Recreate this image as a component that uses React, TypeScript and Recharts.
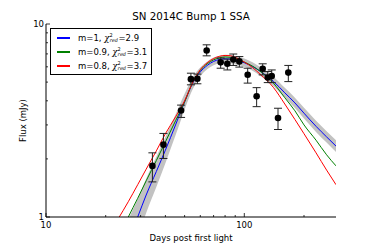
import {
  ComposedChart,
  Line,
  Area,
  Scatter,
  ErrorBar,
  XAxis,
  YAxis,
  Legend,
} from 'recharts';

document.body.style.margin = '0';

const FONT = '"DejaVu Sans", Verdana, sans-serif';

// model curves sampled on a common time grid (days)
const modelDays = [23, 26, 29, 32, 36, 40, 45, 50, 55, 60, 65, 70, 75, 80, 85, 90, 100, 110, 120, 140, 160, 180, 200, 230, 260, 290];
const blueFlux = [0.55, 0.75, 1.0, 1.3, 1.72, 2.22, 3.0, 3.95, 4.95, 5.65, 6.1, 6.4, 6.55, 6.6, 6.58, 6.5, 6.3, 6.02, 5.7, 5.05, 4.4, 3.9, 3.45, 2.95, 2.6, 2.33];
const greenFlux = [0.77, 1.0, 1.25, 1.54, 1.96, 2.45, 3.15, 3.95, 5.0, 5.75, 6.22, 6.52, 6.68, 6.75, 6.72, 6.62, 6.35, 6.05, 5.7, 4.95, 4.15, 3.55, 3.0, 2.5, 2.1, 1.84];
const redFlux = [0.97, 1.2, 1.47, 1.77, 2.2, 2.7, 3.3, 4.0, 5.0, 5.8, 6.3, 6.62, 6.8, 6.87, 6.85, 6.72, 6.35, 5.95, 5.5, 4.7, 3.85, 3.2, 2.7, 2.15, 1.75, 1.47];
const bandLow = [0.42, 0.58, 0.79, 1.05, 1.43, 1.9, 2.65, 3.6, 4.6, 5.35, 5.82, 6.12, 6.26, 6.3, 6.27, 6.2, 6.0, 5.72, 5.4, 4.77, 4.15, 3.67, 3.24, 2.76, 2.43, 2.17];
const bandHigh = [0.72, 0.97, 1.24, 1.58, 2.05, 2.6, 3.4, 4.35, 5.3, 5.95, 6.4, 6.7, 6.85, 6.92, 6.9, 6.82, 6.62, 6.33, 6.0, 5.35, 4.67, 4.15, 3.68, 3.15, 2.78, 2.5];

// observed points
const obsDays = [34.4, 39.1, 48.0, 53.8, 58.0, 64.6, 76.0, 82.1, 88.0, 94.4, 104, 115.4, 123.8, 131.3, 137.5, 147.9, 166.7];
const obsFlux = [1.84, 2.37, 3.56, 5.18, 5.2, 7.29, 6.33, 6.22, 6.55, 6.4, 5.46, 4.22, 5.86, 5.28, 5.38, 3.26, 5.6];
const obsErrLow = [0.32, 0.36, 0.28, 0.34, 0.3, 0.45, 0.43, 0.44, 0.45, 0.42, 0.52, 0.49, 0.41, 0.31, 0.41, 0.42, 0.57];
const obsErrHigh = [0.31, 0.34, 0.24, 0.38, 0.3, 0.51, 0.33, 0.36, 0.44, 0.38, 0.44, 0.46, 0.36, 0.39, 0.4, 0.4, 0.5];

const xTicks = [10, 20, 30, 40, 50, 60, 70, 80, 90, 100, 200];
const xMajor = [10, 100];
const yTicks = [1, 2, 3, 4, 5, 6, 7, 8, 9, 10];
const yMajor = [1, 10];

const legendM = ['1', '0.9', '0.8'];
const legendChi = ['2.9', '3.1', '3.7'];
const legendColors = ['#0000ff', '#008000', '#ff0000'];

const modelData = modelDays.map((x, i) => ({
  x,
  blue: blueFlux[i],
  green: greenFlux[i],
  red: redFlux[i],
  band: [bandLow[i], bandHigh[i]],
}));

const obsData = obsDays.map((x, i) => ({
  x,
  flux: obsFlux[i],
  err: [obsErrLow[i], obsErrHigh[i]],
}));

const TM = 8;

function XTick(props: any) {
  const { x, y, payload, side } = props;
  const major = xMajor.includes(payload.value);
  const len = major ? 4 : 2;
  if (side === 'top') {
    const ay = y + TM;
    return <line x1={x} x2={x} y1={ay} y2={ay + len} stroke="#000" strokeWidth={0.8} />;
  }
  const ay = y - TM;
  return (
    <g>
      <line x1={x} x2={x} y1={ay} y2={ay - len} stroke="#000" strokeWidth={0.8} />
      {major && (
        <text x={x} y={ay + 11} textAnchor="middle" fontSize={8.5} fontFamily={FONT} fill="#000">
          {payload.value}
        </text>
      )}
    </g>
  );
}

function YTick(props: any) {
  const { x, y, payload, side } = props;
  const major = yMajor.includes(payload.value);
  const len = major ? 4 : 2;
  if (side === 'right') {
    const ax = x - TM;
    return <line x1={ax} x2={ax - len} y1={y} y2={y} stroke="#000" strokeWidth={0.8} />;
  }
  const ax = x + TM;
  return (
    <g>
      <line x1={ax} x2={ax + len} y1={y} y2={y} stroke="#000" strokeWidth={0.8} />
      {major && (
        <text x={ax - 2} y={y} dy="0.35em" textAnchor="end" fontSize={8.5} fontFamily={FONT} fill="#000">
          {payload.value}
        </text>
      )}
    </g>
  );
}

function XLabel({ viewBox }: any) {
  const { x, y, width } = viewBox;
  return (
    <text x={x + width / 2} y={y + 23.5} textAnchor="middle" fontSize={8.5} fontFamily={FONT} fill="#000">
      Days post first light
    </text>
  );
}

function YLabel({ viewBox }: any) {
  const { x, y, height } = viewBox;
  return (
    <text
      transform={`translate(${x + 26},${y + height / 2}) rotate(-90)`}
      textAnchor="middle"
      fontSize={8.5}
      fontFamily={FONT}
      fill="#000"
    >
      Flux (mJy)
    </text>
  );
}

function LegendBox() {
  return (
    <div
      style={{
        border: '1px solid #000',
        background: '#fff',
        width: 102,
        height: 47,
        boxSizing: 'border-box',
        padding: '2px 0 0 6px',
        fontFamily: FONT,
        fontSize: 8.5,
        color: '#000',
      }}
    >
      {legendM.map((m, i) => (
        <div key={m} style={{ display: 'flex', alignItems: 'center', height: 14 }}>
          <div style={{ width: 13, height: 1.3, background: legendColors[i], marginRight: 8, flex: 'none' }} />
          <span style={{ whiteSpace: 'nowrap', display: 'flex', alignItems: 'center' }}>
            m={m},&nbsp;<i style={{ fontFamily: 'DejaVu Serif' }}>χ</i>
            <span style={{ display: 'inline-flex', flexDirection: 'column', fontSize: 5, lineHeight: '5px', marginRight: 0.5 }}>
              <span>2</span>
              <i style={{ fontFamily: 'DejaVu Serif' }}>red</i>
            </span>
            ={legendChi[i]}
          </span>
        </div>
      ))}
    </div>
  );
}

export default function App() {
  return (
    <div style={{ position: 'relative', width: 374, height: 249, background: '#fff' }}>
      <div
        style={{
          position: 'absolute',
          left: 46,
          width: 290,
          top: 10,
          textAlign: 'center',
          fontFamily: FONT,
          fontSize: 10.3,
          lineHeight: '13px',
          color: '#000',
        }}
      >
        SN 2014C Bump 1 SSA
      </div>
      <ComposedChart
        width={374}
        height={249}
        data={modelData}
        margin={{ top: 24, right: 38, bottom: 0, left: 0 }}
        style={{ position: 'absolute', left: 0, top: 0 }}
      >
        <XAxis
          dataKey="x"
          type="number"
          scale="log"
          domain={[10, 290]}
          allowDataOverflow
          ticks={xTicks}
          interval={0}
          tickLine={false}
          tickSize={0}
          tickMargin={TM}
          height={32}
          axisLine={{ stroke: '#000', strokeWidth: 1 }}
          tick={(p: any) => <XTick {...p} side="bottom" />}
          label={<XLabel />}
        />
        <XAxis
          xAxisId="top"
          orientation="top"
          dataKey="x"
          type="number"
          scale="log"
          domain={[10, 290]}
          allowDataOverflow
          ticks={xTicks}
          interval={0}
          tickLine={false}
          tickSize={0}
          tickMargin={TM}
          height={0}
          axisLine={{ stroke: '#000', strokeWidth: 1 }}
          tick={(p: any) => <XTick {...p} side="top" />}
        />
        <YAxis
          type="number"
          scale="log"
          domain={[1, 10]}
          allowDataOverflow
          ticks={yTicks}
          interval={0}
          tickLine={false}
          tickSize={0}
          tickMargin={TM}
          width={46}
          axisLine={{ stroke: '#000', strokeWidth: 1 }}
          tick={(p: any) => <YTick {...p} side="left" />}
          label={<YLabel />}
        />
        <YAxis
          yAxisId="right"
          orientation="right"
          type="number"
          scale="log"
          domain={[1, 10]}
          allowDataOverflow
          ticks={yTicks}
          interval={0}
          tickLine={false}
          tickSize={0}
          tickMargin={TM}
          width={0}
          axisLine={{ stroke: '#000', strokeWidth: 1 }}
          tick={(p: any) => <YTick {...p} side="right" />}
        />
        <Area
          dataKey="band"
          type="monotone"
          fill="#c2c2c2"
          fillOpacity={1}
          stroke="none"
          isAnimationActive={false}
        />
        <Line dataKey="blue" type="monotone" stroke="#0000ff" strokeWidth={1} dot={false} isAnimationActive={false} />
        <Line dataKey="green" type="monotone" stroke="#008000" strokeWidth={1} dot={false} isAnimationActive={false} />
        <Line dataKey="red" type="monotone" stroke="#ff0000" strokeWidth={1} dot={false} isAnimationActive={false} />
        <Scatter
          data={obsData}
          dataKey="flux"
          fill="#000"
          isAnimationActive={false}
          shape={(p: any) => <circle cx={p.cx} cy={p.cy} r={3.3} fill="#000" />}
        >
          <ErrorBar dataKey="err" direction="y" width={4} stroke="#222" strokeWidth={1} />
        </Scatter>
        <Legend
          layout="vertical"
          align="center"
          verticalAlign="middle"
          wrapperStyle={{ left: 50, top: 28, width: 102 }}
          content={() => <LegendBox />}
        />
      </ComposedChart>
    </div>
  );
}
